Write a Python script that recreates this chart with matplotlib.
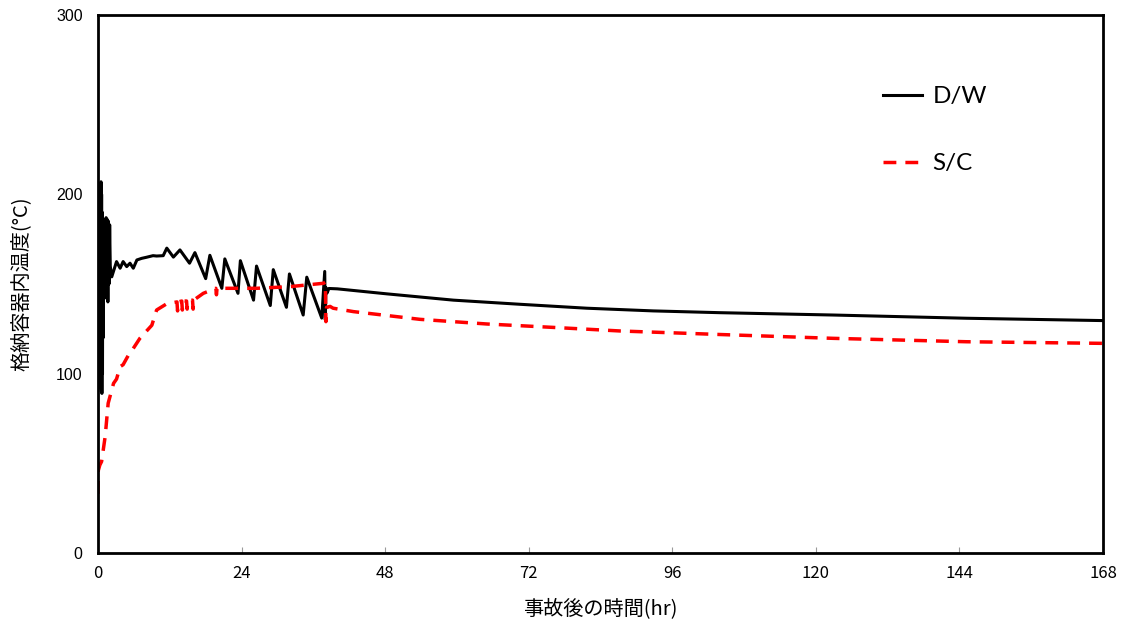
import numpy as np
import matplotlib.pyplot as plt

plt.rcParams['font.family'] = ['Noto Sans CJK JP', 'DejaVu Sans']

# D/W (格納容器ドライウェル) temperature, hr / degC
dw_t = [0.30, 0.35, 0.40, 0.45, 0.50, 0.55, 0.60, 0.65, 0.70, 0.75, 0.80, 0.85, 0.90,
        1.15, 1.25, 1.35, 1.45, 1.55, 1.65, 1.75, 1.85, 1.95, 2.05,
        2.3, 3.1, 3.7, 4.2, 4.8, 5.35, 5.9, 6.5, 7.3, 8.1, 9.2, 9.8, 10.9, 11.5,
        12.6, 13.7, 15.3, 16.2, 18.0, 18.7, 20.7, 21.2, 23.4, 23.8, 26.0, 26.5,
        28.8, 29.3, 31.5, 32.0, 34.3, 34.9, 37.4, 37.9, 38.0, 38.1, 38.3, 38.6,
        40.0, 48.3, 59.4, 70.5, 81.7, 92.8, 104.0, 122.9, 145.2, 168.0]
dw_T = [150, 92, 205, 95, 207, 90, 200, 89, 190, 100, 180, 120, 150,
        186, 145, 187, 142, 186, 140, 185, 150, 183, 160,
        154, 162.5, 158.8, 162.5, 159.7, 161.6, 158.8, 163.4, 164.3, 164.9, 165.8, 165.6, 165.8, 170,
        165, 169, 161.6, 167.5, 153, 166, 147.6, 164, 144.8, 163, 141, 160,
        138, 158, 137, 155.6, 132.7, 153.8, 131, 157, 130, 148, 145, 147.5,
        147.3, 144.5, 141, 138.7, 136.5, 135, 134, 132.7, 130.9, 129.6]

# S/C (サプレッションチェンバ) temperature
sc_t = [0.0, 0.05, 0.3, 0.6, 1.2, 1.7, 2.6, 3.1, 3.7, 4.2, 5.1, 5.3, 7.0, 9.0, 9.8, 11.5,
        13.2, 13.3, 13.4, 14.0, 14.1, 14.2, 14.8, 14.9, 15.0, 15.8, 15.9, 16.0,
        17.6, 19.7, 19.8, 19.9, 22.0, 26.5, 32.0, 37.7, 38.0, 38.1, 38.2, 38.8, 39.3,
        42.7, 53.8, 65.0, 76.1, 87.3, 98.4, 103.4, 122.9, 145.2, 168.0]
sc_T = [33, 46, 49, 51, 65, 83.5, 94.6, 97, 103.9, 105, 110.4, 111, 119.7, 127, 135.5, 139,
        140, 135, 140, 140.5, 135.5, 140.5, 140.5, 136, 140.5, 141, 136, 141,
        144.8, 147.6, 144, 147.6, 147.6, 147.6, 148.5, 150.4, 151, 129, 137, 137.5, 136.5,
        134.6, 130.3, 127.7, 125.8, 123.8, 122.5, 121.9, 119.7, 117.8, 116.9]

xticks = [0, 24, 48, 72, 96, 120, 144, 168]
yticks = [0, 100, 200, 300]

fig = plt.figure(figsize=(11.21, 6.21), dpi=100)
ax = fig.add_axes([98/1121, 1 - 553/621, 1005/1121, 538/621])

ax.plot(dw_t, dw_T, color='black', lw=2.2, label='D/W')
ax.plot(sc_t, sc_T, color='#ff0000', lw=2.5, dashes=(3.7, 2.6), label='S/C')

ax.set_xlim(0, 168)
ax.set_ylim(0, 300)
ax.set_xticks(xticks)
ax.set_yticks(yticks)
ax.tick_params(axis='x', direction='in', length=4, width=0.8, color='#999999',
               pad=9, labelsize=12)
ax.tick_params(axis='y', length=0, pad=11, labelsize=11.5)
for lab in ax.get_yticklabels():
    lab.set_fontfamily('Liberation Sans')
for s in ax.spines.values():
    s.set_linewidth(2)
    s.set_color('black')

ax.set_xlabel('事故後の時間(hr)', fontsize=14.5)
ax.xaxis.set_label_coords(0.5, -0.0836)
ax.set_ylabel('格納容器内温度(°C)', fontsize=14.5)
ax.yaxis.set_label_coords(-0.0657, 0.5)

ax.legend(loc='upper left', bbox_to_anchor=(0.781, 0.868), frameon=False,
          borderpad=0, borderaxespad=0, labelspacing=1.9, handlelength=1.6,
          handletextpad=0.45, prop={'family': 'Lato', 'size': 17.5})

plt.savefig('out.png', dpi=100)
